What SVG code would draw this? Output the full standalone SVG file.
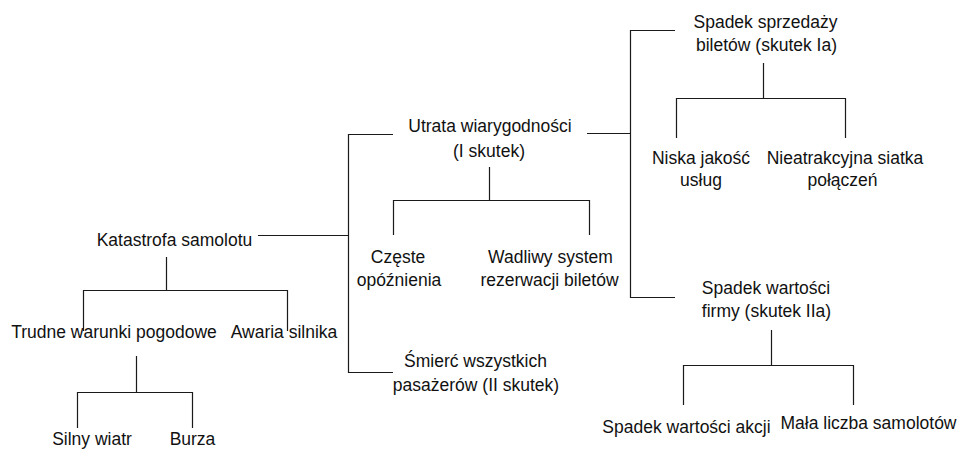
<svg xmlns="http://www.w3.org/2000/svg" width="964" height="450" viewBox="0 0 964 450">
  <style>
    .bg { fill: #ffffff; }
    .lbl { font-family: "Liberation Sans", Arial, sans-serif; font-size: 17.5px; fill: #111111; text-anchor: middle; }
    .wire { fill: none; stroke: #1a1a1a; stroke-width: 1.2; }
  </style>
  <rect class="bg" x="0" y="0" width="964" height="450"/>

  <!-- connectors -->
  <g id="connectors">
    <!-- root to effects -->
    <path class="wire" d="M258 235.5 H348.5 M393 134.5 H348.5 V372.5 H393"/>
    <!-- root to causes -->
    <path class="wire" d="M166.5 257 V290.5 M83.5 331 V290.5 H287.5 V331"/>
    <!-- weather to sub-causes -->
    <path class="wire" d="M136.5 356 V392.5 M77.5 428 V392.5 H192.5 V428"/>
    <!-- first effect to secondary effects -->
    <path class="wire" d="M587 133.5 H630.5 M675 30.5 H630.5 V297.5 H675"/>
    <!-- first effect to its causes -->
    <path class="wire" d="M489.5 167 V200.5 M393.5 235 V200.5 H589.5 V235"/>
    <!-- ticket sales to its causes -->
    <path class="wire" d="M763.5 63 V98.5 M676.5 138 V98.5 H845.5 V138"/>
    <!-- company value to its causes -->
    <path class="wire" d="M771.5 330 V365.5 M683.5 405 V365.5 H853.5 V405"/>
  </g>

  <g id="katastrofa"><text class="lbl" x="174.5" y="246">Katastrofa samolotu</text></g>
  <g id="trudne-warunki"><text class="lbl" x="114" y="338">Trudne warunki pogodowe</text></g>
  <g id="awaria"><text class="lbl" x="284" y="338">Awaria silnika</text></g>
  <g id="silny-wiatr"><text class="lbl" x="92" y="445">Silny wiatr</text></g>
  <g id="burza"><text class="lbl" x="192.5" y="445">Burza</text></g>

  <g id="utrata">
    <text class="lbl" x="490" y="132">Utrata wiarygodności</text>
    <text class="lbl" x="489" y="157">(I skutek)</text>
  </g>
  <g id="czeste">
    <text class="lbl" x="398" y="263">Częste</text>
    <text class="lbl" x="399" y="286">opóźnienia</text>
  </g>
  <g id="wadliwy">
    <text class="lbl" x="550.5" y="263">Wadliwy system</text>
    <text class="lbl" x="549.5" y="286">rezerwacji biletów</text>
  </g>
  <g id="smierc">
    <text class="lbl" x="475.5" y="367">Śmierć wszystkich</text>
    <text class="lbl" x="476" y="391">pasażerów (II skutek)</text>
  </g>

  <g id="spadek-sprzedazy">
    <text class="lbl" x="765.5" y="28">Spadek sprzedaży</text>
    <text class="lbl" x="766.5" y="51">biletów (skutek Ia)</text>
  </g>
  <g id="niska-jakosc">
    <text class="lbl" x="701" y="164">Niska jakość</text>
    <text class="lbl" x="701" y="186">usług</text>
  </g>
  <g id="siatka">
    <text class="lbl" x="845" y="164">Nieatrakcyjna siatka</text>
    <text class="lbl" x="842.5" y="186">połączeń</text>
  </g>

  <g id="spadek-wartosci">
    <text class="lbl" x="766" y="294">Spadek wartości</text>
    <text class="lbl" x="766.5" y="317">firmy (skutek IIa)</text>
  </g>
  <g id="akcje"><text class="lbl" x="686.5" y="433">Spadek wartości akcji</text></g>
  <g id="samoloty"><text class="lbl" x="868.5" y="429">Mała liczba samolotów</text></g>
</svg>
